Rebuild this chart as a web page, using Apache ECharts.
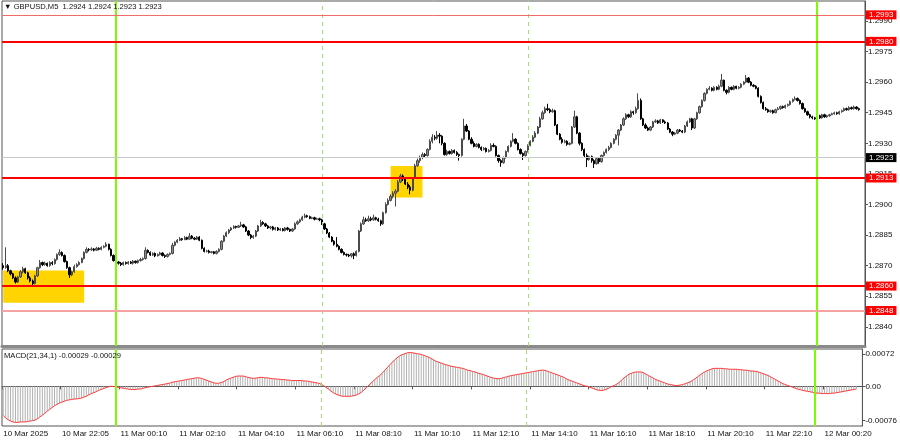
<!DOCTYPE html>
<html><head><meta charset="utf-8">
<script src="https://cdn.jsdelivr.net/npm/echarts@6/dist/echarts.min.js"></script>
<style>html,body{margin:0;padding:0;background:#fff}#c{width:900px;height:441px}</style>
</head><body><div id="c"></div>
<script>
// Prices are given in points (0.00001) above PRICE_BASE
const PRICE_BASE = 1.28;
const POINT = 0.00001;

const opens = [
700,690,700,675,660,640,620,645,670,685,
665,640,625,612,650,690,715,705,712,700,
715,710,730,755,765,750,720,690,655,670,
695,705,715,735,765,780,778,782,776,785,
780,790,795,805,780,750,725,718,712,705,
715,710,718,712,722,715,725,730,735,775,
765,752,760,748,755,762,750,745,755,760,
800,815,825,832,828,838,830,845,835,830,
840,825,785,770,772,765,768,760,770,780,
820,845,862,875,885,892,888,895,900,890,
870,850,838,845,870,895,912,905,895,885,
890,878,885,875,880,872,885,878,870,880,
905,915,925,938,945,940,932,935,928,930,
925,905,880,860,840,820,805,795,780,765,
755,752,748,758,750,770,870,905,925,920,
930,925,935,928,920,905,960,1000,1020,1040,
1055,1065,1110,1140,1125,1100,1085,1070,1130,1190,
1215,1230,1245,1240,1270,1310,1330,1325,1340,1335,
1300,1245,1260,1250,1265,1255,1245,1240,1320,1385,
1360,1320,1300,1285,1295,1280,1270,1275,1260,1265,
1290,1285,1240,1215,1205,1230,1260,1285,1310,1320,
1300,1270,1250,1240,1260,1290,1310,1330,1350,1380,
1420,1450,1470,1465,1455,1460,1390,1345,1320,1305,
1310,1295,1300,1380,1430,1350,1300,1270,1240,1220,
1235,1215,1200,1225,1210,1240,1255,1270,1280,1300,
1320,1340,1365,1390,1420,1440,1430,1455,1450,1470,
1510,1420,1390,1375,1365,1380,1405,1410,1400,1415,
1405,1400,1370,1355,1345,1350,1365,1360,1355,1385,
1405,1420,1375,1420,1450,1480,1510,1545,1565,1570,
1560,1575,1565,1580,1610,1560,1550,1575,1565,1580,
1570,1575,1590,1600,1620,1600,1585,1580,1570,1530,
1500,1470,1465,1455,1460,1450,1465,1470,1480,1475,
1485,1490,1505,1515,1520,1510,1495,1470,1455,1440,
1430,1425,1420,1435,1425,1440,1430,1435,1440,1445,
1450,1445,1455,1460,1470,1465,1475,1470,1478,1470
];
const closes = [
690,700,675,660,640,620,645,670,685,665,
640,625,612,650,690,715,705,712,700,715,
710,730,755,765,750,720,690,655,670,695,
705,715,735,765,780,778,782,776,785,780,
790,795,805,780,750,725,718,712,705,715,
710,718,712,722,715,725,730,735,775,765,
752,760,748,755,762,750,745,755,760,800,
815,825,832,828,838,830,845,835,830,840,
825,785,770,772,765,768,760,770,780,820,
845,862,875,885,892,888,895,900,890,870,
850,838,845,870,895,912,905,895,885,890,
878,885,875,880,872,885,878,870,880,905,
915,925,938,945,940,932,935,928,930,925,
905,880,860,840,820,805,795,780,765,755,
752,748,758,750,770,870,905,925,920,930,
925,935,928,920,905,960,1000,1020,1040,1055,
1065,1110,1140,1125,1100,1085,1070,1130,1190,1215,
1230,1245,1240,1270,1310,1330,1325,1340,1335,1300,
1245,1260,1250,1265,1255,1245,1240,1320,1385,1360,
1320,1300,1285,1295,1280,1270,1275,1260,1265,1290,
1285,1240,1215,1205,1230,1260,1285,1310,1320,1300,
1270,1250,1240,1260,1290,1310,1330,1350,1380,1420,
1450,1470,1465,1455,1460,1390,1345,1320,1305,1310,
1295,1300,1380,1430,1350,1300,1270,1240,1220,1235,
1215,1200,1225,1210,1240,1255,1270,1280,1300,1320,
1340,1365,1390,1420,1440,1430,1455,1450,1470,1510,
1420,1390,1375,1365,1380,1405,1410,1400,1415,1405,
1400,1370,1355,1345,1350,1365,1360,1355,1385,1405,
1420,1375,1420,1450,1480,1510,1545,1565,1570,1560,
1575,1565,1580,1610,1560,1550,1575,1565,1580,1570,
1575,1590,1600,1620,1600,1585,1580,1570,1530,1500,
1470,1465,1455,1460,1450,1465,1470,1480,1475,1485,
1490,1505,1515,1520,1510,1495,1470,1455,1440,1430,
1425,1420,1435,1425,1440,1430,1435,1440,1445,1450,
1445,1455,1460,1470,1465,1475,1470,1478,1470,1465
];
const highs = [
712,790,708,680,665,648,650,678,695,690,
670,648,632,655,695,728,720,720,715,722,
722,735,760,780,770,755,725,695,675,705,
712,722,740,770,790,786,790,786,792,790,
795,800,815,808,785,755,730,722,718,720,
720,722,722,728,725,730,738,740,790,780,
770,765,765,760,768,766,755,760,765,812,
820,830,840,836,845,842,860,850,840,845,
845,828,790,778,778,772,772,775,785,825,
850,868,880,890,898,896,900,915,905,895,
875,855,850,875,900,925,918,910,900,895,
895,890,890,885,885,890,890,882,885,912,
922,930,945,955,950,945,940,940,935,935,
930,910,885,865,845,825,840,800,785,770,
760,758,762,765,775,875,912,940,935,945,
940,950,940,935,925,965,1010,1030,1050,1065,
1075,1120,1150,1148,1130,1110,1095,1135,1200,1225,
1240,1255,1252,1275,1320,1345,1340,1360,1350,1340,
1305,1268,1265,1272,1270,1262,1250,1325,1420,1395,
1365,1330,1310,1300,1300,1285,1282,1280,1272,1300,
1300,1290,1245,1222,1235,1265,1290,1315,1350,1325,
1305,1275,1255,1265,1295,1315,1340,1360,1385,1430,
1460,1480,1494,1472,1470,1465,1395,1350,1330,1318,
1315,1305,1385,1460,1435,1355,1305,1275,1250,1240,
1240,1222,1230,1230,1245,1260,1275,1288,1305,1325,
1345,1370,1395,1428,1448,1445,1462,1460,1480,1545,
1520,1425,1398,1382,1385,1410,1418,1415,1420,1418,
1412,1405,1375,1360,1355,1370,1370,1365,1390,1412,
1425,1425,1425,1455,1485,1515,1550,1570,1580,1575,
1580,1580,1588,1640,1612,1565,1580,1578,1585,1582,
1580,1595,1605,1635,1625,1605,1590,1585,1575,1535,
1505,1478,1470,1465,1465,1470,1478,1485,1485,1490,
1495,1510,1520,1530,1525,1515,1500,1475,1460,1445,
1435,1430,1440,1440,1445,1445,1440,1445,1450,1455,
1455,1460,1465,1475,1475,1482,1480,1485,1482,1475
];
const lows = [
680,685,668,652,635,612,615,640,662,660,
632,618,605,608,645,685,698,700,695,695,
702,705,725,748,745,715,685,640,648,665,
690,700,712,730,760,770,772,770,772,775,
775,785,790,775,745,720,712,705,698,700,
705,705,708,705,710,710,720,725,730,760,
748,748,742,745,750,745,738,740,750,755,
795,810,820,822,825,825,828,830,825,826,
820,780,765,765,760,760,755,755,765,775,
815,840,855,870,880,882,885,890,885,865,
845,830,832,840,865,890,900,890,880,878,
872,872,870,870,868,868,872,865,865,876,
900,910,920,932,935,928,928,922,925,918,
900,875,855,835,815,798,790,775,760,750,
745,742,740,732,745,765,865,900,915,915,
918,920,922,915,895,900,955,995,1015,1030,
990,1060,1105,1115,1095,1075,1050,1065,1125,1185,
1205,1222,1232,1235,1265,1300,1315,1318,1300,1290,
1240,1238,1245,1245,1250,1238,1215,1235,1315,1355,
1315,1295,1280,1280,1275,1262,1265,1255,1255,1260,
1280,1235,1205,1185,1200,1225,1255,1280,1305,1295,
1265,1245,1218,1235,1255,1285,1305,1325,1345,1375,
1415,1445,1458,1448,1450,1385,1340,1315,1298,1300,
1288,1290,1295,1375,1345,1290,1262,1232,1184,1215,
1205,1179,1195,1200,1205,1235,1250,1262,1275,1295,
1315,1290,1360,1385,1415,1425,1425,1440,1445,1465,
1415,1385,1370,1360,1360,1375,1400,1395,1395,1400,
1395,1365,1350,1335,1340,1345,1355,1350,1350,1380,
1400,1365,1370,1415,1445,1475,1505,1540,1560,1555,
1555,1560,1560,1575,1555,1540,1545,1560,1560,1565,
1565,1570,1585,1595,1595,1580,1575,1565,1525,1495,
1465,1460,1450,1450,1445,1448,1462,1465,1470,1470,
1480,1485,1500,1510,1505,1490,1465,1450,1435,1422,
1418,1415,1415,1420,1420,1425,1425,1430,1438,1440,
1440,1440,1450,1455,1460,1460,1465,1465,1465,1460
];
// MACD(21,34,1) values in units of 0.00001
const macd = [
-65,-70,-74,-77,-79,-80,-80,-79,-79,-79,
-78,-77,-76,-75,-72,-68,-64,-60,-55,-51,
-47,-43,-40,-37,-35,-33,-31,-30,-29,-28,
-28,-27,-26,-24,-22,-19,-16,-14,-12,-9,
-7,-5,-3,-1,0,0,-1,-2,-3,-4,
-5,-6,-7,-7,-7,-6,-6,-5,-3,-2,
-1,0,1,2,3,4,5,6,7,9,
10,11,12,13,14,15,16,17,18,19,
19,18,16,14,12,10,8,7,7,8,
10,13,16,18,20,22,23,23,23,22,
20,19,18,18,19,20,20,19,19,18,
17,17,16,16,15,15,14,14,13,13,
13,13,13,12,12,11,10,9,8,7,
5,2,-2,-6,-10,-14,-17,-19,-21,-22,
-22,-22,-22,-21,-20,-18,-15,-11,-6,-1,
5,10,15,20,24,29,35,41,47,53,
58,63,67,70,72,74,75,75,74,73,
72,71,69,67,65,62,59,56,54,52,
50,48,47,45,44,43,42,41,40,38,
36,35,33,32,30,28,27,25,23,21,
19,18,17,17,18,20,21,23,24,25,
26,27,28,29,30,31,32,33,34,35,
36,36,35,33,31,29,27,25,23,21,
18,15,13,11,9,7,5,3,1,0,
-2,-4,-6,-8,-9,-9,-8,-6,-3,0,
2,5,9,14,19,23,27,29,31,32,
32,32,30,27,24,21,18,15,13,11,
9,7,5,4,3,2,2,3,4,6,
8,10,13,17,21,25,29,32,35,37,
39,40,40,40,40,39,39,38,38,38,
38,37,37,36,36,35,34,34,33,32,
30,28,26,24,21,18,15,12,9,6,
4,2,0,-2,-4,-6,-7,-9,-10,-11,
-12,-13,-14,-15,-15,-16,-16,-16,-16,-15,
-15,-14,-13,-12,-11,-10,-9,-8,-7,-6
];
const MACD_UNIT = 0.00001;

const timeTickIndex = [0,24,48,72,96,120,144,168,192,216,240,264,288,312,336];
const timeTickLabels = ['10 Mar 2025','10 Mar 22:05','11 Mar 00:10','11 Mar 02:10','11 Mar 04:10','11 Mar 06:10','11 Mar 08:10','11 Mar 10:10','11 Mar 12:10','11 Mar 14:10','11 Mar 16:10','11 Mar 18:10','11 Mar 20:10','11 Mar 22:10','12 Mar 00:20'];
const priceTicks = [1.2840,1.2855,1.2870,1.2885,1.2900,1.2915,1.2930,1.2945,1.2960,1.2975,1.2990];
const macdTicks = [0.00072, 0, -0.00076];
const levelValues = [1.2993, 1.2980, 1.2913, 1.2860, 1.2848];
const currentPrice = 1.2923;
const solidVLines = [46, 332];
const dashedVLines = [130, 214];
const zoneBoxes = [[0, 33, 1.28676, 1.28518], [158, 171, 1.29189, 1.29034]];
const titleText = '\u25BC GBPUSD,M5  1.2924 1.2924 1.2923 1.2923';
const macdText = 'MACD(21,34,1) -0.00029 -0.00029';

const toP = p => +(PRICE_BASE + p * POINT).toFixed(5);
const candles = opens.map((o, i) => [toP(o), toP(closes[i]), toP(lows[i]), toP(highs[i])]);
const macdVals = macd.map(v => +(v * MACD_UNIT).toFixed(6));
const nCats = opens.length + 2;
const cats = Array.from({length: nCats}, (_, i) => String(i));

const FONT = 'Liberation Sans, Arial, sans-serif';
const showTick = (idx) => timeTickIndex.indexOf(idx) >= 0;

const levelStyles = [
  {color: '#f26a6a', width: 1},
  {color: '#ff0000', width: 2},
  {color: '#ff0000', width: 2},
  {color: '#ff0000', width: 2},
  {color: '#f6a3a3', width: 2}
];
const boxLabel = (bg) => ({
  show: true, position: 'end', distance: 1,
  formatter: p => (+p.value).toFixed(4),
  color: '#fff', backgroundColor: bg, padding: [1, 3, 0, 3],
  fontSize: 8, fontFamily: FONT
});

const vLineData = () => solidVLines.map(v => ({xAxis: v, lineStyle: {color: '#7cfc00', width: 2, type: 'solid'}}))
  .concat(dashedVLines.map(v => ({xAxis: v, lineStyle: {color: '#a4e070', width: 1, type: [4, 4]}})));

const hLines = [{yAxis: currentPrice, lineStyle: {color: '#c8c8c8', width: 1, type: 'solid'}, label: boxLabel('#000000')}]
  .concat(levelValues.map((v, k) => ({yAxis: v, lineStyle: Object.assign({type: 'solid'}, levelStyles[k]), label: boxLabel('#ff0000')})));

const chart = echarts.init(document.getElementById('c'), null, {renderer: 'canvas'});
chart.setOption({
  animation: false,
  backgroundColor: '#ffffff',
  title: [
    {text: titleText, left: 4, top: 3, padding: 0, textStyle: {fontSize: 7.6, fontWeight: 'normal', color: '#111', fontFamily: FONT}},
    {text: macdText, left: 4, top: 352, padding: 0, textStyle: {fontSize: 7.6, fontWeight: 'normal', color: '#111', fontFamily: FONT}}
  ],
  grid: [
    {left: 2, right: 35, top: 1, height: 345, show: true, borderColor: '#555', borderWidth: 1, backgroundColor: 'transparent'},
    {left: 2, right: 35, top: 349, height: 77, show: true, borderColor: '#555', borderWidth: 1, backgroundColor: 'transparent'}
  ],
  xAxis: [
    {type: 'category', gridIndex: 0, data: cats, boundaryGap: true,
     axisLine: {show: true, lineStyle: {color: '#8a8a8a', width: 3}},
     axisTick: {show: false}, axisLabel: {show: false}, splitLine: {show: false}},
    {type: 'category', gridIndex: 1, data: cats, boundaryGap: true,
     axisLine: {show: true, lineStyle: {color: '#555', width: 1}},
     axisTick: {show: true, interval: (i) => showTick(i), length: 3, lineStyle: {color: '#555'}},
     axisLabel: {show: true, interval: (i) => showTick(i), align: 'left', margin: 4,
       formatter: (v) => timeTickLabels[timeTickIndex.indexOf(+v)] || '',
       fontSize: 8, color: '#111', fontFamily: FONT},
     splitLine: {show: false}}
  ],
  yAxis: [
    {type: 'value', gridIndex: 0, position: 'right', min: 1.28306, max: 1.29998,
     axisLine: {show: true, lineStyle: {color: '#555'}},
     axisTick: {show: true, length: 3, customValues: priceTicks, lineStyle: {color: '#555'}},
     axisLabel: {show: true, customValues: priceTicks, margin: 3, formatter: v => v.toFixed(4),
       fontSize: 8, color: '#111', fontFamily: FONT},
     splitLine: {show: false}},
    {type: 'value', gridIndex: 1, position: 'right', min: -0.00088, max: 0.00083,
     axisLine: {show: true, lineStyle: {color: '#555'}},
     axisTick: {show: true, length: 3, customValues: macdTicks, lineStyle: {color: '#555'}},
     axisLabel: {show: true, customValues: macdTicks, margin: 3,
       formatter: v => v === 0 ? '0.00' : v.toFixed(5),
       fontSize: 8, color: '#111', fontFamily: FONT},
     splitLine: {show: false}}
  ],
  series: [
    {type: 'candlestick', name: 'GBPUSD', xAxisIndex: 0, yAxisIndex: 0, data: candles,
     barWidth: '72%',
     itemStyle: {color: '#8c8c8c', color0: '#000000', borderColor: '#4a4a4a', borderColor0: '#000000', borderWidth: 1},
     markArea: {silent: true, itemStyle: {color: '#ffd400', opacity: 1},
       data: zoneBoxes.map(b => [{xAxis: b[0], yAxis: b[2]}, {xAxis: b[1], yAxis: b[3]}])},
     markLine: {silent: true, symbol: ['none', 'none'], label: {show: false}, data: vLineData()}
    },
    {type: 'line', name: 'Levels', xAxisIndex: 0, yAxisIndex: 0, data: [], clip: false, silent: true,
     markLine: {silent: true, precision: 5, symbol: ['none', 'none'], data: hLines}},
    {type: 'bar', name: 'MACD', xAxisIndex: 1, yAxisIndex: 1, data: macdVals, barWidth: 1,
     itemStyle: {color: '#b0b0b0'}, silent: true,
     markLine: {silent: true, symbol: ['none', 'none'], label: {show: false}, data: vLineData()}},
    {type: 'line', name: 'Signal', xAxisIndex: 1, yAxisIndex: 1, data: macdVals, showSymbol: false, symbol: 'none',
     lineStyle: {color: '#ff3a3a', width: 1}, silent: true}
  ]
});
</script>
</body></html>
